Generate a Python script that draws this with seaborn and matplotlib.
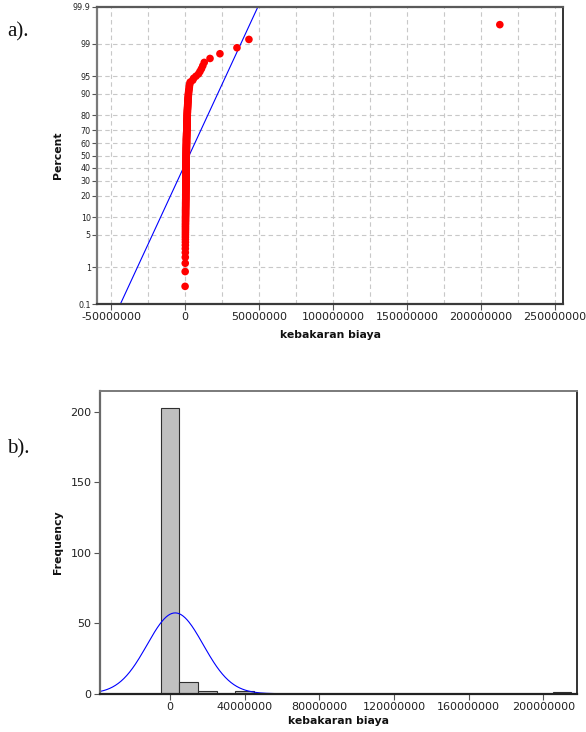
import numpy as np
import pandas as pd
import matplotlib
matplotlib.use("Agg")
import matplotlib.pyplot as plt
from matplotlib.ticker import NullLocator, FixedLocator
import seaborn as sns
from statistics import NormalDist

# Biaya kerugian kebakaran (juta rupiah), dikelompokkan menurut besarnya
biaya_kecil = [
    0.05, 0.10, 0.15, 0.18, 0.20, 0.20, 0.22, 0.25, 0.25, 0.25,
    0.27, 0.28, 0.30, 0.30, 0.30, 0.30, 0.32, 0.33, 0.35, 0.35,
    0.35, 0.36, 0.38, 0.40, 0.40, 0.40, 0.40, 0.40, 0.42, 0.42,
    0.43, 0.45, 0.45, 0.45, 0.45, 0.46, 0.47, 0.48, 0.48, 0.50,
    0.50, 0.50, 0.50, 0.50, 0.50, 0.50, 0.52, 0.52, 0.53, 0.55,
    0.55, 0.55, 0.55, 0.56, 0.57, 0.58, 0.58, 0.60, 0.60, 0.60,
    0.60, 0.60, 0.60, 0.60, 0.60, 0.61, 0.62, 0.62, 0.63, 0.64,
    0.65, 0.65, 0.65, 0.65, 0.66, 0.67, 0.68, 0.68, 0.70, 0.70,
    0.70, 0.70, 0.70, 0.70, 0.70, 0.71, 0.72, 0.72, 0.73, 0.74,
    0.75, 0.75, 0.75, 0.75, 0.76, 0.77, 0.78, 0.78, 0.79, 0.80,
    0.80, 0.80, 0.80, 0.80, 0.80, 0.80, 0.81, 0.82, 0.83, 0.84,
    0.85, 0.85, 0.85, 0.86, 0.87, 0.88, 0.88, 0.90, 0.90, 0.90,
    0.90, 0.90, 0.92, 0.93, 0.94, 0.95, 0.95, 0.95, 0.96, 0.98,
    1.00, 1.00, 1.00, 1.00, 1.00, 1.00, 1.00, 1.02, 1.03, 1.05,
    1.05, 1.06, 1.08, 1.10, 1.10, 1.10, 1.12, 1.15, 1.15, 1.18,
    1.20, 1.20, 1.20, 1.22, 1.25, 1.25, 1.25, 1.28, 1.30, 1.30,
    1.30, 1.32, 1.35, 1.35, 1.38, 1.40, 1.40, 1.42, 1.45, 1.45,
    1.48, 1.50, 1.50, 1.50, 1.52, 1.55, 1.58, 1.60, 1.60, 1.65,
    1.70, 1.70, 1.75, 1.80, 1.80, 1.85, 1.90, 1.95, 2.00, 2.00,
    2.05, 2.10, 2.20, 2.25, 2.30,
    2.40, 2.50, 2.60, 2.75, 2.90, 3.00, 3.25, 3.50,
]
biaya_menengah = [5.2, 5.8, 7.4, 9.1, 10.1, 11.1, 12.0, 13.0, 16.9, 23.6]
biaya_besar = [35.1, 43.2, 212.8]

# Tick positions and labels
persen_ticks = [0.1, 1, 5, 10, 20, 30, 40, 50, 60, 70, 80, 90, 95, 99, 99.9]
persen_labels = ["0.1", "1", "5", "10", "20", "30", "40", "50", "60", "70",
                 "80", "90", "95", "99", "99.9"]
x_ticks_a = [-50000000, 0, 50000000, 100000000, 150000000, 200000000, 250000000]
x_grid_a = [-25000000, 25000000, 75000000, 125000000, 175000000, 225000000]
x_ticks_b = [0, 40000000, 80000000, 120000000, 160000000, 200000000]
freq_ticks = [0, 50, 100, 150, 200]

biaya = np.sort(np.array(biaya_kecil + biaya_menengah + biaya_besar) * 1e6)
n = len(biaya)
rata = biaya.mean()
sd = biaya.std(ddof=1)

# Median-rank plotting positions (Benard)
rank = np.arange(1, n + 1)
persen = (rank - 0.3) / (n + 0.4) * 100
df = pd.DataFrame({"biaya": biaya, "persen": persen})

sns.set_theme(style="white")
plt.rcParams["font.family"] = ["DejaVu Sans"]
plt.rcParams["axes.edgecolor"] = "#6a6a6a"

nd = NormalDist()
_ppf = np.vectorize(lambda v: nd.inv_cdf(v), otypes=[float])
_cdf = np.vectorize(lambda v: nd.cdf(v), otypes=[float])


def prob_forward(p):
    p = np.clip(np.asarray(p, dtype=float), 1e-7, 100 - 1e-7)
    return _ppf(p / 100.0)


def prob_inverse(z):
    return _cdf(np.asarray(z, dtype=float)) * 100.0


W, H = 586, 732
fig = plt.figure(figsize=(W / 100, H / 100), dpi=100)
fig.patch.set_facecolor("white")

# ---------- a) normal probability plot ----------
ax1 = fig.add_axes([97 / W, 1 - 304 / H, 466 / W, 297 / H])
ax1.set_yscale("function", functions=(prob_forward, prob_inverse))
ax1.set_ylim(0.1, 99.9)
ax1.set_xlim(-59500000, 255500000)

ax1.yaxis.set_major_locator(FixedLocator(persen_ticks))
ax1.set_yticklabels(persen_labels)
ax1.yaxis.set_minor_locator(NullLocator())
ax1.set_xticks(x_ticks_a)
ax1.set_xticklabels([str(v) for v in x_ticks_a])
ax1.set_xticks(x_grid_a, minor=True)

ax1.grid(True, which="both", axis="x", color="#c8c8c8", linestyle=(0, (4, 3)), linewidth=0.8)
ax1.grid(True, which="major", axis="y", color="#c8c8c8", linestyle=(0, (4, 3)), linewidth=0.8)
ax1.set_axisbelow(True)

# fitted normal line
p_line = np.array([0.1, 1, 50, 99, 99.9])
x_line = rata + sd * prob_forward(p_line)
sns.lineplot(x=x_line, y=p_line, ax=ax1, color="#0000ff", linewidth=0.8, sort=False, zorder=2)
sns.scatterplot(data=df, x="biaya", y="persen", ax=ax1, color="#ff0000", s=30,
                linewidth=0, edgecolor="none", zorder=3)

ax1.tick_params(axis="x", which="major", direction="out", length=4, width=0.8,
                color="#555555", labelsize=8, labelcolor="#222222", pad=2, bottom=True)
ax1.tick_params(axis="x", which="minor", length=0)
ax1.tick_params(axis="y", direction="out", length=3.5, width=0.8, color="#555555",
                labelsize=5.8, labelcolor="#222222", pad=1, left=True)
ax1.set_xlabel("kebakaran biaya", fontsize=7.8, fontweight="bold", color="#111111")
ax1.set_ylabel("Percent", fontsize=7.8, fontweight="bold", color="#111111")
ax1.xaxis.set_label_coords(0.5, -0.088)
ax1.yaxis.set_label_coords(-0.073, 0.5)
for side, col, lw in [("top", "#5a5a5a", 1.6), ("left", "#7a7a7a", 1.6),
                      ("bottom", "#3a3a3a", 1.6), ("right", "#111111", 1.2)]:
    ax1.spines[side].set_color(col)
    ax1.spines[side].set_linewidth(lw)

# ---------- b) histogram with normal curve ----------
ax2 = fig.add_axes([100 / W, 1 - 693.7 / H, 477 / W, 303 / H])
lebar_kelas = 10e6
sns.histplot(x=biaya, binwidth=lebar_kelas, binrange=(-5e6, 215e6), ax=ax2,
             color="#c0c0c0", edgecolor="#303030", linewidth=0.8, alpha=1)
xs = np.linspace(-37.5e6, 218e6, 500)
ys = n * lebar_kelas * np.exp(-0.5 * ((xs - rata) / sd) ** 2) / (sd * np.sqrt(2 * np.pi))
sns.lineplot(x=xs, y=ys, ax=ax2, color="#0000ff", linewidth=0.8)

ax2.set_xlim(-37.5e6, 218e6)
ax2.set_ylim(0, 215)
ax2.set_xticks(x_ticks_b)
ax2.set_xticklabels([str(v) for v in x_ticks_b])
ax2.set_yticks(freq_ticks)
ax2.set_yticklabels([str(v) for v in freq_ticks])
ax2.tick_params(axis="both", direction="out", length=4, width=0.8, color="#555555",
                labelsize=8, labelcolor="#222222", pad=2, bottom=True, left=True)
ax2.set_xlabel("kebakaran biaya", fontsize=7.8, fontweight="bold", color="#111111")
ax2.set_ylabel("Frequency", fontsize=7.8, fontweight="bold", color="#111111")
ax2.xaxis.set_label_coords(0.5, -0.075)
ax2.yaxis.set_label_coords(-0.078, 0.5)
for side, col, lw in [("top", "#7a7a7a", 1.4), ("left", "#6a6a6a", 1.6),
                      ("bottom", "#222222", 1.6), ("right", "#111111", 1.2)]:
    ax2.spines[side].set_color(col)
    ax2.spines[side].set_linewidth(lw)

# panel captions
fig.text(7 / W, 1 - 36 / H, "a).", fontsize=15, family=["Liberation Serif", "DejaVu Serif"],
         va="baseline", ha="left", color="#111111")
fig.text(7 / W, 1 - 453 / H, "b).", fontsize=15, family=["Liberation Serif", "DejaVu Serif"],
         va="baseline", ha="left", color="#111111")

fig.savefig("out.png", dpi=100, facecolor="white")
